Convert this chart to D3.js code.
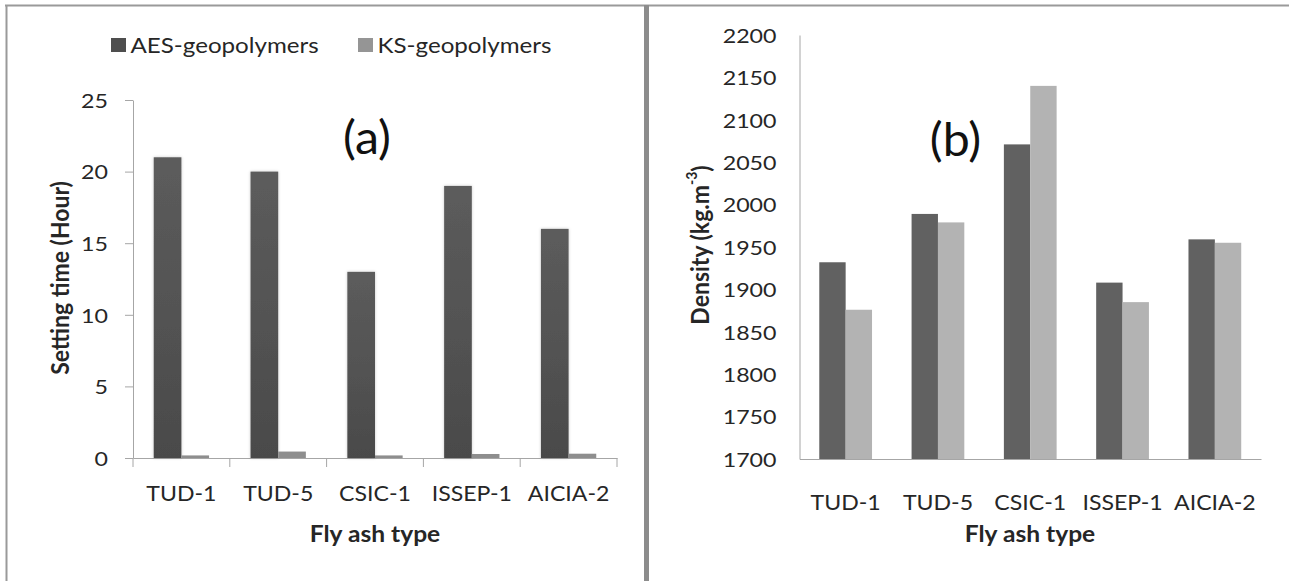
<!DOCTYPE html>
<html>
<head>
<meta charset="utf-8">
<script src="https://cdn.jsdelivr.net/npm/d3@7"></script>
<style>
  html, body { margin: 0; padding: 0; background: #fff; }
  svg { display: block; font-family: Lato, "Open Sans", sans-serif; }
</style>
</head>
<body>
<svg id="chart" width="1289" height="581"></svg>
<script>
// ---- data ----
const categories = ["TUD-1", "TUD-5", "CSIC-1", "ISSEP-1", "AICIA-2"];
const seriesNames = ["AES-geopolymers", "KS-geopolymers"];
const settingAES = [21, 20, 13, 19, 16];
const settingKS = [0.18, 0.45, 0.18, 0.28, 0.3];
const densityAES = [1932, 1989, 2071, 1908, 1959];
const densityKS = [1876, 1979, 2140, 1885, 1955];
const settingTicks = [0, 5, 10, 15, 20, 25];
const densityTicks = [1700, 1750, 1800, 1850, 1900, 1950, 2000, 2050, 2100, 2150, 2200];

const svg = d3.select("#chart");
svg.append("rect").attr("width", 1289).attr("height", 581).attr("fill", "#fff");

// horizontal stretch helper for text (reference glyphs are wide)
function stretch(sel, s) {
  sel.each(function () {
    const t = d3.select(this);
    const x = +t.attr("x") || 0, y = +t.attr("y") || 0;
    t.attr("x", 0).attr("y", 0).attr("transform", `translate(${x},${y}) scale(${s},1)`);
  });
}

const defs = svg.append("defs");
const grad = defs.append("linearGradient").attr("id", "gDark").attr("x1", 0).attr("y1", 0).attr("x2", 0).attr("y2", 1);
grad.append("stop").attr("offset", "0%").attr("stop-color", "#5c5c5c");
grad.append("stop").attr("offset", "100%").attr("stop-color", "#4a4a4a");
const shadow = defs.append("filter").attr("id", "shadow").attr("x", "-30%").attr("y", "-10%").attr("width", "160%").attr("height", "120%");
shadow.append("feDropShadow").attr("dx", 0).attr("dy", 0).attr("stdDeviation", 1.5).attr("flood-color", "#000").attr("flood-opacity", 0.22);

// ---- frames ----
svg.append("line").attr("x1", 5).attr("x2", 1289).attr("y1", 5.5).attr("y2", 5.5).attr("stroke", "#9a9a9a").attr("stroke-width", 2);
svg.append("line").attr("x1", 6.5).attr("x2", 6.5).attr("y1", 5).attr("y2", 581).attr("stroke", "#9a9a9a").attr("stroke-width", 2);
svg.append("rect").attr("x", 644).attr("y", 5).attr("width", 5).attr("height", 576).attr("fill", "#8c8c8c");

const axisColor = "#a6a6a6";
const textColor = "#262626";

// ================= Left chart =================
const xL = d3.scaleBand().domain(categories).range([133, 617]).padding(0);
const subL = d3.scaleBand().domain(seriesNames).range([0, xL.bandwidth()]).paddingInner(0).paddingOuter(0.75);
const yL = d3.scaleLinear().domain([0, 25]).range([458, 100]);

const gL = svg.append("g");
// y axis
const yAxisL = gL.append("g").attr("transform", "translate(133,0)")
  .call(d3.axisLeft(yL).tickValues(settingTicks).tickSize(8).tickSizeOuter(0).tickPadding(17));
yAxisL.select(".domain").attr("stroke", axisColor);
yAxisL.selectAll(".tick line").attr("stroke", axisColor);
yAxisL.selectAll("text").attr("font-size", 20).attr("fill", textColor).attr("font-family", "Lato").attr("dy", "0.36em");
stretch(yAxisL.selectAll("text"), 1.16);

// x axis
const xAxisL = gL.append("g").attr("transform", "translate(0,458)")
  .call(d3.axisBottom(xL).tickSize(0).tickSizeOuter(0).tickPadding(0));
xAxisL.select(".domain").attr("stroke", axisColor);
xAxisL.selectAll("text").attr("font-size", 21).attr("fill", textColor).attr("y", 35).attr("dy", "0.36em").attr("font-family", "Lato");
stretch(xAxisL.selectAll("text"), 1.1);
// boundary ticks
const boundsL = categories.map(c => xL(c)).concat([xL.range()[1]]);
gL.append("g").selectAll("line").data(boundsL).join("line")
  .attr("x1", d => d).attr("x2", d => d).attr("y1", 458).attr("y2", 467)
  .attr("stroke", axisColor);

// bars
const barsL = gL.append("g");
categories.forEach((c, i) => {
  const vals = [settingAES[i], settingKS[i]];
  seriesNames.forEach((s, j) => {
    barsL.append("rect")
      .attr("x", xL(c) + subL(s))
      .attr("y", yL(vals[j]))
      .attr("width", subL.bandwidth())
      .attr("height", yL(0) - yL(vals[j]))
      .attr("fill", j === 0 ? "url(#gDark)" : "#8e8e8e")
      .attr("filter", j === 0 ? "url(#shadow)" : null);
  });
});

// legend
const legColors = ["#4e4e4e", "#959595"];
const legX = [111, 358];
seriesNames.forEach((s, j) => {
  gL.append("rect").attr("x", legX[j]).attr("y", 38).attr("width", 15).attr("height", 14).attr("fill", legColors[j]);
  const t = gL.append("text").attr("x", legX[j] + 19.5).attr("y", 45).attr("dy", "0.36em")
    .attr("font-size", 21).attr("fill", textColor).text(s);
  stretch(t, 1.15);
});

// panel label
const ta = gL.append("text").attr("x", 367).attr("y", 154).attr("text-anchor", "middle").attr("font-size", 46).attr("fill", "#111").text("(a)");
stretch(ta, 1.05);

// axis titles
gL.append("text").attr("transform", "translate(60,278) rotate(-90) scale(1,1.1)").attr("text-anchor", "middle").attr("dy", "0.35em")
  .attr("font-size", 23).attr("font-weight", "bold").attr("fill", textColor).text("Setting time (Hour)");
const fl = gL.append("text").attr("x", 375).attr("y", 535).attr("text-anchor", "middle").attr("dy", "0.3em")
  .attr("font-size", 23).attr("font-weight", "bold").attr("fill", textColor).text("Fly ash type");
stretch(fl, 1.07);

// ================= Right chart =================
const xR = d3.scaleBand().domain(categories).range([799.5, 1261]).padding(0);
const subR = d3.scaleBand().domain(seriesNames).range([0, xR.bandwidth()]).paddingInner(0).paddingOuter(0.75);
const yR = d3.scaleLinear().domain([1700, 2200]).range([459, 35]);

const gR = svg.append("g");
const yAxisR = gR.append("g").attr("transform", "translate(799.5,0)")
  .call(d3.axisLeft(yR).tickValues(densityTicks).tickSize(0).tickSizeOuter(0).tickPadding(23).tickFormat(d3.format("d")));
yAxisR.select(".domain").attr("stroke", axisColor);
yAxisR.selectAll("text").attr("font-size", 20).attr("fill", textColor).attr("font-family", "Lato").attr("dy", "0.36em");
stretch(yAxisR.selectAll("text"), 1.16);

const xAxisR = gR.append("g").attr("transform", "translate(0,459)")
  .call(d3.axisBottom(xR).tickSize(0).tickSizeOuter(0).tickPadding(0));
xAxisR.select(".domain").attr("stroke", axisColor);
xAxisR.selectAll("text").attr("font-size", 21).attr("fill", textColor).attr("y", 43).attr("dy", "0.36em").attr("font-family", "Lato");
stretch(xAxisR.selectAll("text"), 1.1);

const barsR = gR.append("g");
categories.forEach((c, i) => {
  const vals = [densityAES[i], densityKS[i]];
  seriesNames.forEach((s, j) => {
    barsR.append("rect")
      .attr("x", xR(c) + subR(s))
      .attr("y", yR(vals[j]))
      .attr("width", subR.bandwidth())
      .attr("height", yR(1700) - yR(vals[j]))
      .attr("fill", j === 0 ? "#616161" : "#b3b3b3");
  });
});

const tb = gR.append("text").attr("x", 955.5).attr("y", 156).attr("text-anchor", "middle").attr("font-size", 46).attr("fill", "#111").text("(b)");
stretch(tb, 1.05);

const ytR = gR.append("text").attr("transform", "translate(700,245) rotate(-90) scale(1,1.1)").attr("text-anchor", "middle").attr("dy", "0.35em")
  .attr("font-size", 23).attr("font-weight", "bold").attr("fill", textColor);
ytR.append("tspan").text("Density (kg.m");
ytR.append("tspan").attr("font-size", 14).attr("dy", "-0.75em").text("-3");
ytR.append("tspan").attr("dy", "0.5em").text(")");

const fr = gR.append("text").attr("x", 1030).attr("y", 535).attr("text-anchor", "middle").attr("dy", "0.3em")
  .attr("font-size", 23).attr("font-weight", "bold").attr("fill", textColor).text("Fly ash type");
stretch(fr, 1.07);
</script>
</body>
</html>
